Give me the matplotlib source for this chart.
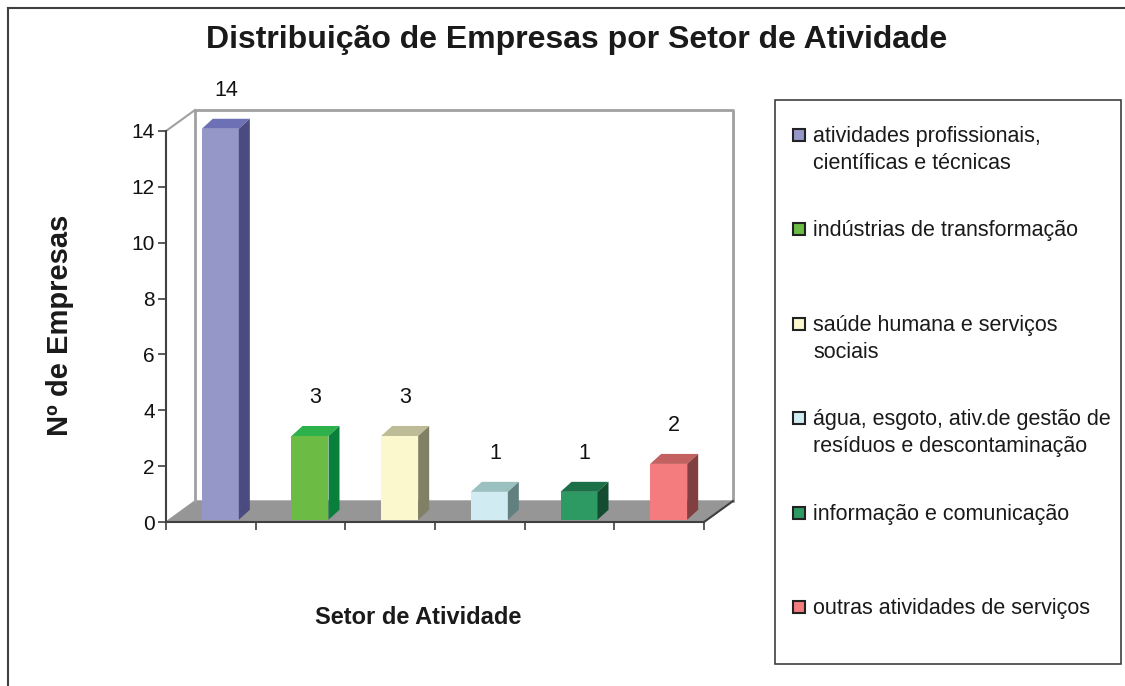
import matplotlib
matplotlib.use("Agg")
import matplotlib.pyplot as plt
from matplotlib.patches import Polygon, Rectangle
from matplotlib.lines import Line2D

plt.rcParams["font.family"] = ["Liberation Sans", "DejaVu Sans"]

setores = [
    "atividades profissionais,\ncientíficas e técnicas",
    "indústrias de transformação",
    "saúde humana e serviços\nsociais",
    "água, esgoto, ativ.de gestão de\nresíduos e descontaminação",
    "informação e comunicação",
    "outras atividades de serviços",
]
empresas = [14, 3, 3, 1, 1, 2]
yticks = [0, 2, 4, 6, 8, 10, 12, 14]

cor_frente = ["#9597c8", "#6bbb45", "#faf8cc", "#d0ecf2", "#2e9a63", "#f47c7e"]
cor_topo = ["#6e70b5", "#2db14a", "#bdbc97", "#9ac0c0", "#1b7048", "#c36060"]
cor_lado = ["#4b4b80", "#0a7f3c", "#818064", "#62807f", "#134c30", "#813f3f"]

W, H = 1125, 686
fig = plt.figure(figsize=(W / 100, H / 100), dpi=100)

# plot area in pixels (front plane)
x_esq, x_dir = 166, 704
y_zero, y_top = 522, 131
prof_x, prof_y = 29, 21      # depth of the 3d box
n = len(empresas)
ymax = max(yticks)
px_cat = (x_dir - x_esq) / n
px_val = (y_zero - y_top) / ymax
ddx = prof_x / px_cat
ddy = prof_y / px_val

xlim = (-0.5, n - 0.5 + ddx)
ylim = (0, ymax + ddy)
ax = fig.add_axes([x_esq / W, (H - y_zero) / H,
                   (xlim[1] - xlim[0]) * px_cat / W,
                   (ylim[1] - ylim[0]) * px_val / H])
ax.set_xlim(xlim)
ax.set_ylim(ylim)
ax.patch.set_visible(False)

# floor
floor = Polygon([(-0.5, 0), (n - 0.5, 0), (n - 0.5 + ddx, ddy), (-0.5 + ddx, ddy)],
                closed=True, facecolor="#969696", edgecolor="#969696", lw=1, clip_on=False, zorder=1)
ax.add_patch(floor)

# back wall edges
wall = "#a0a0a0"
ax.add_line(Line2D([-0.5 + ddx, -0.5 + ddx, n - 0.5 + ddx, n - 0.5 + ddx],
                   [ddy, ymax + ddy, ymax + ddy, ddy], color=wall, lw=2, clip_on=False, zorder=1))
ax.add_line(Line2D([-0.5, -0.5 + ddx], [ymax, ymax + ddy], color=wall, lw=1.5, clip_on=False, zorder=1))
ax.add_line(Line2D([n - 0.5, n - 0.5 + ddx], [0, ddy], color="#404040", lw=1.5, clip_on=False, zorder=3))

# bars
bw = 37 / px_cat
bdx = 11 / px_cat
bdy = 10 / px_val
ox, oy = 9.5 / px_cat, 0.08
for i, v in enumerate(empresas):
    xl = i - bw / 2 + ox
    xr = xl + bw
    ax.add_patch(Rectangle((xl, oy), bw, v, facecolor=cor_frente[i], edgecolor="none", zorder=4))
    ax.add_patch(Polygon([(xl, oy + v), (xr, oy + v), (xr + bdx, oy + v + bdy), (xl + bdx, oy + v + bdy)],
                         closed=True, facecolor=cor_topo[i], edgecolor="none", zorder=4))
    ax.add_patch(Polygon([(xr, oy), (xr + bdx, oy + bdy), (xr + bdx, oy + v + bdy), (xr, oy + v)],
                         closed=True, facecolor=cor_lado[i], edgecolor="none", zorder=4))
    ax.annotate(str(v), (xl + (bw + bdx) / 2, oy + v + bdy), xytext=(0, 13), textcoords="offset points",
                ha="center", va="bottom", fontsize=15.5, color="#111111")

# axes
for s in ["top", "right"]:
    ax.spines[s].set_visible(False)
ax.spines["left"].set_bounds(0, ymax)
ax.spines["bottom"].set_bounds(-0.5, n - 0.5)
for s in ["left", "bottom"]:
    ax.spines[s].set_color("#404040")
    ax.spines[s].set_linewidth(1.5)
    ax.spines[s].set_zorder(3)
ax.set_yticks(yticks)
ax.set_xticks([i - 0.5 for i in range(n + 1)])
ax.set_xticklabels([])
ax.tick_params(axis="y", direction="out", length=6, width=1.2, color="#404040", labelsize=15, pad=2,
               labelcolor="#111111")
ax.tick_params(axis="x", direction="out", length=6, width=1.2, color="#404040")

# titles
fig.text(577 / W, 1 - 40 / H, "Distribuição de Empresas por Setor de Atividade",
         ha="center", va="center", fontsize=23, fontweight="bold", color="#1a1a1a")
fig.text(60 / W, 1 - 325 / H, "Nº de Empresas", rotation=90, ha="center", va="center",
         fontsize=21, fontweight="bold", color="#1a1a1a")
fig.text(418 / W, 1 - 618 / H, "Setor de Atividade", ha="center", va="center",
         fontsize=17, fontweight="bold", color="#1a1a1a")

# legend
fig.patches.append(Rectangle((775 / W, 1 - 664 / H), (1121 - 775) / W, (664 - 100) / H,
                             transform=fig.transFigure, facecolor="none", edgecolor="#404040", lw=1.2))
for i, nome in enumerate(setores):
    yc = 135 + i * 94.4
    fig.patches.append(Rectangle((793 / W, 1 - (yc + 6) / H), 12 / W, 12 / H, transform=fig.transFigure,
                                 facecolor=cor_frente[i], edgecolor="#222222", lw=1.5))
    for k, linha in enumerate(nome.split("\n")):
        fig.text(813 / W, 1 - (yc + 7 + k * 27) / H, linha, ha="left", va="baseline", fontsize=15.5,
                 color="#1a1a1a")

# outer frame (left and top only)
fig.add_artist(Line2D([8 / W, 8 / W], [0, 1 - 8 / H], transform=fig.transFigure, color="#404040", lw=1.5))
fig.add_artist(Line2D([8 / W, 1], [1 - 8 / H, 1 - 8 / H], transform=fig.transFigure, color="#404040", lw=1.5))

fig.savefig("out.png", dpi=100)
